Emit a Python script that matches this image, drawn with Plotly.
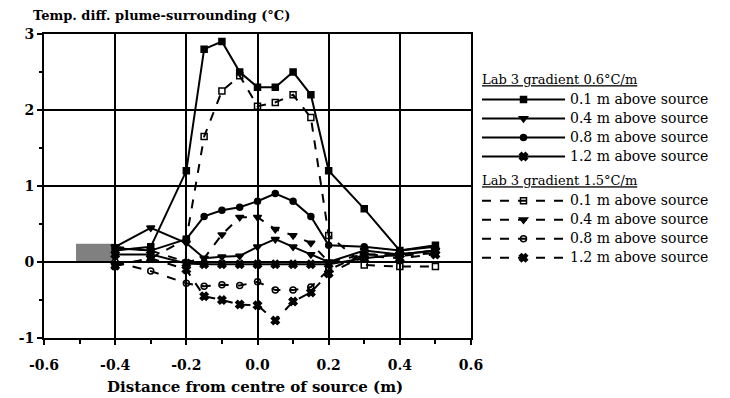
import plotly.graph_objects as go

x_pos = [-0.4, -0.3, -0.2, -0.15, -0.1, -0.05, 0.0, 0.05, 0.1, 0.15, 0.2, 0.3, 0.4, 0.5]

# Lab 3 gradient 0.6 °C/m (solid lines)
g06_01 = [0.15, 0.20, 1.20, 2.80, 2.90, 2.50, 2.30, 2.30, 2.50, 2.20, 1.20, 0.70, 0.15, 0.22]
g06_04 = [0.20, 0.45, 0.25, 0.05, 0.07, 0.08, 0.20, 0.30, 0.20, 0.10, 0.00, 0.15, 0.10, 0.15]
g06_08 = [0.18, 0.15, 0.30, 0.60, 0.68, 0.72, 0.80, 0.90, 0.80, 0.60, 0.22, 0.20, 0.15, 0.20]
g06_12 = [0.10, 0.10, -0.02, -0.03, -0.03, -0.03, -0.03, -0.03, -0.03, -0.03, -0.03, 0.05, 0.10, 0.15]

# Lab 3 gradient 1.5 °C/m (dashed lines)
g15_01 = [-0.05, 0.05, 0.30, 1.65, 2.25, 2.45, 2.05, 2.10, 2.20, 1.90, 0.35, -0.04, -0.06, -0.06]
g15_04 = [0.20, 0.15, 0.00, 0.05, 0.36, 0.59, 0.59, 0.43, 0.35, 0.25, 0.00, 0.10, 0.10, 0.15]
g15_08 = [0.00, -0.12, -0.28, -0.32, -0.30, -0.31, -0.26, -0.37, -0.37, -0.33, -0.10, 0.10, 0.08, 0.12]
g15_12 = [-0.05, 0.05, -0.10, -0.45, -0.50, -0.56, -0.57, -0.77, -0.52, -0.40, -0.15, 0.08, 0.05, 0.10]

labels = ["0.1 m above source", "0.4 m above source", "0.8 m above source", "1.2 m above source"]
group_titles = ["Lab 3 gradient 0.6°C/m", "Lab 3 gradient 1.5°C/m"]

x_ticks = [-0.6, -0.4, -0.2, 0.0, 0.2, 0.4, 0.6]
x_ticklabels = ["-0.6", "-0.4", "-0.2", "0.0", "0.2", "0.4", "0.6"]
y_ticks = [-1, 0, 1, 2, 3]
y_ticklabels = ["-1", "0", "1", "2", "3"]

series = [
    (g06_01, "g06", 0, "solid", "square", 6),
    (g06_04, "g06", 1, "solid", "triangle-down", 7),
    (g06_08, "g06", 2, "solid", "circle", 6),
    (g06_12, "g06", 3, "solid", "x", 7),
    (g15_01, "g15", 0, "dash", "square-open", 6),
    (g15_04, "g15", 1, "dash", "triangle-down", 7),
    (g15_08, "g15", 2, "dash", "circle-open", 6),
    (g15_12, "g15", 3, "dash", "x", 7),
]

fig = go.Figure()
for vals, grp, i, dash, sym, size in series:
    gt = group_titles[0] if grp == "g06" else group_titles[1]
    fig.add_trace(go.Scatter(
        x=x_pos, y=vals, mode="lines+markers",
        name="<span style='font-size:14px'>" + labels[i] + "</span>",
        legendgroup=grp,
        legendgrouptitle=dict(text="<span style='font-size:13px'><u>" + gt + "</u></span>",
                              font=dict(family="DejaVu Serif", size=17, color="black")),
        line=dict(color="black", width=2, dash=dash),
        marker=dict(symbol=sym, size=size, color="black",
                    line=dict(color="black", width=1.5)),
    ))

# scanning artefact (grey block near the left edge)
fig.add_shape(type="rect", x0=-0.51, x1=-0.4, y0=0, y1=0.24, xref="x", yref="y",
              fillcolor="#808080", line=dict(width=0), layer="below")

tick_font = dict(family="DejaVu Serif", size=14, color="black", weight="bold")
title_font = dict(family="DejaVu Serif", size=13, color="black", weight="bold")
xtitle_font = dict(family="DejaVu Serif", size=15, color="black", weight="bold")

fig.update_layout(
    width=730, height=398,
    margin=dict(l=44, r=259, t=34, b=60, autoexpand=False),
    paper_bgcolor="white", plot_bgcolor="white",
    font=dict(family="DejaVu Serif", color="black"),
    showlegend=True,
    legend=dict(x=(477 - 44) / 427, xanchor="left", y=1 - (60 - 34) / 304, yanchor="top",
                font=dict(family="DejaVu Serif", size=12, color="black"),
                itemwidth=83, tracegroupgap=0, traceorder="grouped",
                bgcolor="rgba(0,0,0,0)", itemclick=False),
    xaxis=dict(range=[-0.6, 0.6], tickvals=x_ticks, ticktext=x_ticklabels,
               showgrid=True, gridcolor="black", gridwidth=2,
               showline=True, linecolor="black", linewidth=2, mirror=True,
               ticks="outside", ticklen=5, tickwidth=2, tickcolor="black",
               ticklabelstandoff=8, automargin=False,
               minor=dict(dtick=0.1, ticks="outside", ticklen=4, tickwidth=1.5,
                          tickcolor="black", showgrid=False),
               zeroline=False, tickfont=tick_font),
    yaxis=dict(range=[-1, 3], tickvals=y_ticks, ticktext=y_ticklabels,
               showgrid=True, gridcolor="black", gridwidth=2,
               showline=True, linecolor="black", linewidth=2, mirror=True,
               ticks="outside", ticklen=5, tickwidth=2, tickcolor="black",
               automargin=False,
               minor=dict(dtick=0.5, ticks="outside", ticklen=3, tickwidth=1.5,
                          tickcolor="black", showgrid=False),
               zeroline=False, tickfont=tick_font),
    annotations=[
        dict(text="Temp. diff. plume-surrounding (°C)", xref="paper", yref="paper",
             x=-(44 - 31) / 427, y=1 + (34 - 15) / 304, xanchor="left", yanchor="middle",
             showarrow=False, font=title_font),
        dict(text="Distance from centre of source (m)", xref="paper", yref="paper",
             x=(255 - 44) / 427, y=-(387 - 338) / 304, xanchor="center", yanchor="middle",
             showarrow=False, font=xtitle_font),
    ],
)

fig.write_html("out.html")
